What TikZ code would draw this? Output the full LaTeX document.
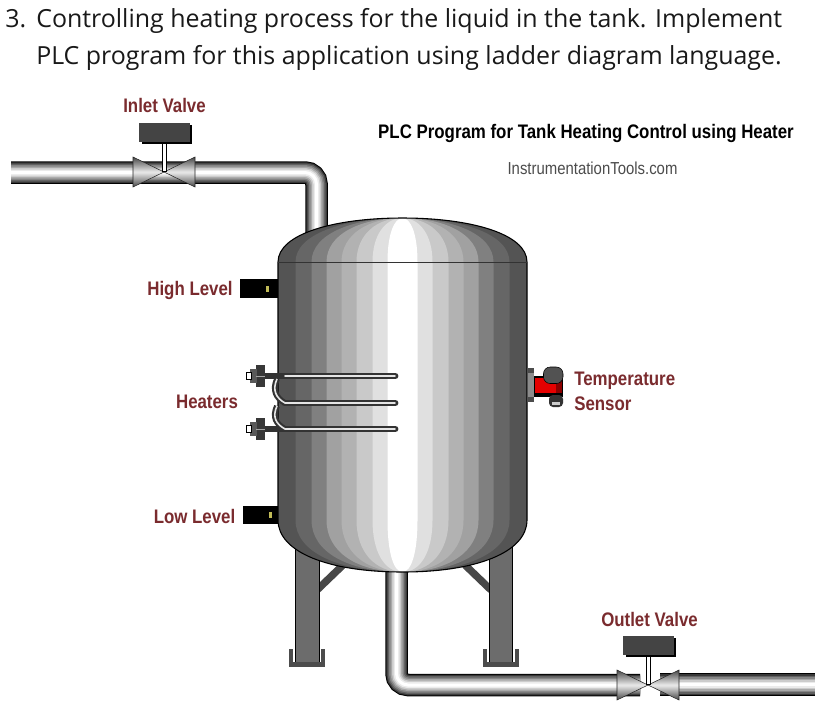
\documentclass[tikz,border=0pt]{standalone}
\usepackage{fontspec}
\usepackage{xcolor}
\setmainfont{Open Sans}
\newfontfamily\labelfont[FakeStretch=0.86]{Liberation Sans}
\definecolor{labelred}{HTML}{7A2B2E}
\definecolor{boxgray}{HTML}{444444}
\definecolor{legfill}{HTML}{6C6C6C}
\newcommand{\pipe}[1]{
	\foreach \lw/\c in {22.5/black,20.5/black!78,18/black!62,15/black!48,12/black!34,9/black!20,6/black!8,3/white} {
		\draw[line width=\lw*0.75pt,rounded corners=8.6pt,color=\c] #1;
	}
}
\newcommand{\valve}[2]{
	\draw[valvecone] (#1-31,#2-15) -- (#1,#2) -- (#1-31,#2+15) -- cycle;
	\draw[valvecone] (#1+31,#2-15) -- (#1,#2) -- (#1+31,#2+15) -- cycle;
	\fill[black] (#1-2,#2-45) rectangle (#1+3,#2);
	\fill[white] (#1-0.7,#2-45) rectangle (#1+1.7,#2-1);
	\fill[black] (#1-22,#2-47) rectangle (#1+28,#2-28);
	\fill[boxgray] (#1-25,#2-49) rectangle (#1+26,#2-30);
}
\tikzset{
	valvecone/.style={draw=black!85,thin,top color=black!72,bottom color=black!72,middle color=black!8},
	tag/.style={font=\labelfont\bfseries\fontsize{14.7}{16}\selectfont,text=labelred,inner sep=0pt},
	topline/.style={font=\fontsize{18.7}{22}\selectfont,text=black!90,inner sep=0pt,anchor=base west},
	leg/.style={fill=legfill,draw=black,line width=0.7pt},
	foot/.style={draw=black!70,line width=3.2pt,line join=miter},
	brace/.style={line width=5.5pt,color=black!72},
	rod/.style={line width=5.2pt,color=black!80,line cap=round},
	rodcore/.style={line width=1.2pt,color=black!10,line cap=round},
	level/.style={fill=black},
	leveldot/.style={fill=olive!55!white}
}
\begin{document}
\begin{tikzpicture}[x=0.75pt,y=-0.75pt]
	\useasboundingbox (0,0) rectangle (820,704);
	\fill[white] (0,0) rectangle (820,704);

	\node[topline] (item) at (5,27) {3.};
	\node[topline] (lineone) at (36,27) {Controlling heating process for the liquid in the tank. Implement};
	\node[topline] (linetwo) at (36,64) {PLC program for this application using ladder diagram language.};

	\pipe{(11,172.5) -- (316.5,172.5) -- (316.5,240)}
	\pipe{(396.5,555) -- (396.5,685) -- (640,685)}
	\pipe{(660,684.5) -- (815,684.5)}
	\valve{164}{172}
	\valve{648}{685}

	\draw[brace] (317,590) -- (343,565);
	\draw[brace] (491,590) -- (465,565);
	\draw[leg] (295,540) rectangle (319,662);
	\draw[leg] (489,540) rectangle (512,662);
	\draw[foot] (291,649) -- (291,664.5) -- (323,664.5) -- (323,649);
	\draw[foot] (485,649) -- (485,664.5) -- (517,664.5) -- (517,649);

	\foreach \w/\c in {124.5/black!67,107/black!60,91/black!50,76/black!37,61/black!30,46/black!21,30/black!12,15/white} {
		\fill[color=\c] ({402.5-\w},262) .. controls ({402.5-\w},234) and ({402.5-0.55*\w},218) .. (402.5,218)
			.. controls ({402.5+0.55*\w},218) and ({402.5+\w},234) .. ({402.5+\w},262)
			-- ({402.5+\w},520) .. controls ({402.5+\w},552) and ({402.5+0.6*\w},572) .. (402.5,572)
			.. controls ({402.5-0.6*\w},572) and ({402.5-\w},552) .. ({402.5-\w},520) -- cycle;
	}
	\draw[black,line width=0.8pt] (278,262) .. controls (278,234) and (334,218) .. (402.5,218)
		.. controls (471,218) and (527,234) .. (527,262) -- (527,520)
		.. controls (527,552) and (477,572) .. (402.5,572)
		.. controls (328,572) and (278,552) .. (278,520) -- cycle;
	\draw[black!80,line width=0.7pt] (278,262) -- (527,262);

	\fill[level] (240,279) rectangle (278,298);
	\fill[leveldot] (266,286) rectangle (269,292);
	\fill[level] (243,506) rectangle (278,524);
	\fill[leveldot] (269,512) rectangle (272,518);

	\draw[rod] (264,376) -- (395,376);
	\draw[rod] (285,403) -- (395,403);
	\draw[rod] (264,429) -- (395,429);
	\draw[line width=4.4pt,black!80] (277,379) .. controls (272,390) and (276,398) .. (285,403);
	\draw[line width=4.4pt,black!80] (277,406) .. controls (272,417) and (276,424) .. (285,429);
	\draw[line width=1.2pt,black!10] (277,379) .. controls (272,390) and (276,398) .. (285,403);
	\draw[line width=1.2pt,black!10] (277,406) .. controls (272,417) and (276,424) .. (285,429);
	\foreach \y in {376,403,429} {
		\draw[rodcore] (285,\y) -- (395,\y);
	}
	\foreach \y in {376,429} {
		\fill[black!78] (256,\y-11) rectangle (265,\y+11);
		\fill[black!65] (250,\y-7) rectangle (257,\y+7);
		\draw[black,fill=white] (246.5,\y-3.5) rectangle (251,\y+3.5);
		\draw[black!35,line width=0.7pt] (256,\y) -- (265,\y);
	}

	\fill[black!70] (528,368) rectangle (534,402);
	\fill[black!45] (528,373) rectangle (534,397);
	\fill[black] (534,376) rectangle (563,397);
	\fill[red!90!black] (535,378) rectangle (556,393);
	\fill[red!55!black] (556,378) rectangle (562,393);
	\fill[black!80,rounded corners=3pt] (549,395) rectangle (563,407);
	\fill[black!20] (552,402) rectangle (560,405);
	\draw[black,fill=black!68,rounded corners=5pt] (543.5,367) rectangle (563,383.5);

	\node[tag] (inletlabel) at (164.5,105.5) {Inlet Valve};
	\node[tag] (highlabel) at (190,290) {High Level};
	\node[tag] (heaterlabel) at (207,402) {Heaters};
	\node[tag] (lowlabel) at (194.5,516) {Low Level};
	\node[tag,anchor=west] (templabel) at (574,380.5) {Temperature};
	\node[tag,anchor=west] (sensorlabel) at (574,404) {Sensor};
	\node[tag] (outletlabel) at (649.5,619) {Outlet Valve};
	\node[font=\labelfont\bfseries\fontsize{14.7}{16}\selectfont,text=black,inner sep=0pt] (title) at (586,133.5) {PLC Program for Tank Heating Control using Heater};
	\node[font=\labelfont\fontsize{13}{15}\selectfont,text=black!70,inner sep=0pt] (site) at (592.5,168.5) {InstrumentationTools.com};
\end{tikzpicture}
\end{document}
